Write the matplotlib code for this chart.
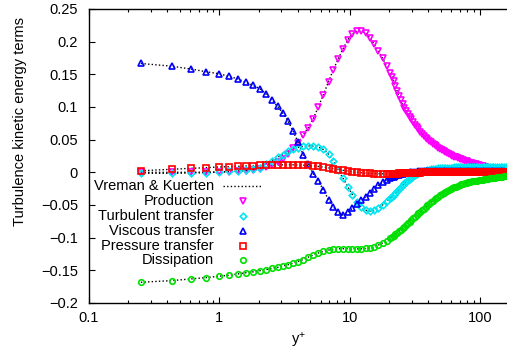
#!/usr/bin/env python3
"""
Turbulence kinetic energy budget near the wall, log scale in y+
"""

import matplotlib
matplotlib.use("Agg")
import matplotlib.pyplot as plt
from matplotlib.lines import Line2D
from matplotlib.ticker import FixedLocator, FixedFormatter, LogLocator, NullFormatter

plt.rcParams['font.family'] = ['Liberation Sans', 'DejaVu Sans']
plt.rcParams['mathtext.default'] = 'regular'

# wall distance of each sample (wall units)
yplus = [0.25, 0.43, 0.61, 0.79, 0.99, 1.18, 1.39, 1.59, 1.82, 2.05,
         2.28, 2.54, 2.80, 3.06, 3.35, 3.67, 4.00, 4.40, 4.80, 5.26,
         5.75, 6.30, 6.90, 7.50, 8.20, 8.90, 9.70, 10.5, 11.4, 12.3,
         13.3, 14.3, 15.4, 16.6, 17.9, 19.3,
         20.5, 21.2, 21.8, 22.5, 23.2, 23.9, 24.7, 25.5, 26.3, 27.1,
         28.0, 28.9, 29.8, 30.8, 31.8, 32.8, 33.8, 34.9, 36.0, 37.2,
         38.4, 39.6, 40.9, 42.2, 43.5, 44.9, 46.4, 47.9, 49.4, 51.0,
         52.6, 54.3, 56.0, 57.8, 59.7, 61.6, 63.5, 65.6, 67.7, 69.8,
         72.0, 74.3, 76.7, 79.2, 81.7, 84.3, 87.0, 89.8, 92.7, 95.7,
         98.7, 102, 105, 108, 112, 115, 119, 123, 127, 131,
         135, 139, 144, 148, 153, 158, 163, 168, 174]

production = [0.0, 0.0, 0.0001, 0.0003, 0.0006, 0.001, 0.0017, 0.0025, 0.0038, 0.0055,
              0.008, 0.011, 0.0155, 0.021, 0.028, 0.0365, 0.045, 0.057, 0.068, 0.082,
              0.100, 0.119, 0.139, 0.157, 0.174, 0.189, 0.203, 0.212, 0.216, 0.216,
              0.213, 0.206, 0.197, 0.186, 0.175, 0.162,
              0.152, 0.146, 0.140, 0.132, 0.124, 0.117, 0.111, 0.105, 0.099, 0.094,
              0.090, 0.085, 0.081, 0.077, 0.073, 0.069, 0.066, 0.062, 0.059, 0.056,
              0.053, 0.0505, 0.048, 0.046, 0.044, 0.042, 0.040, 0.038, 0.036, 0.0345,
              0.033, 0.0315, 0.030, 0.0285, 0.027, 0.0255, 0.024, 0.023, 0.022, 0.021,
              0.020, 0.019, 0.018, 0.017, 0.016, 0.015, 0.014, 0.013, 0.012, 0.011,
              0.0105, 0.0098, 0.009, 0.0084, 0.0078, 0.0073, 0.0068, 0.0064, 0.006, 0.0055,
              0.005, 0.0048, 0.0045, 0.0042, 0.004, 0.0037, 0.0035, 0.0032, 0.003]

turb_transfer = [-0.0015, -0.0015, -0.001, -0.0005, 0.0003, 0.0013, 0.0023, 0.0035, 0.0048, 0.007,
                 0.013, 0.018, 0.023, 0.027, 0.032, 0.0355, 0.038, 0.0398, 0.0405, 0.040,
                 0.039, 0.035, 0.028, 0.018, 0.003, -0.009, -0.022, -0.034, -0.045, -0.053,
                 -0.058, -0.0595, -0.058, -0.054, -0.050, -0.044,
                 -0.040, -0.037, -0.034, -0.0315, -0.029, -0.026, -0.023, -0.020, -0.017, -0.0145,
                 -0.012, -0.010, -0.008, -0.006, -0.004, -0.0025, -0.001, 0.0, 0.001, 0.002,
                 0.0028, 0.0034, 0.004, 0.0045, 0.005, 0.0054, 0.0058, 0.0061, 0.0063, 0.0065,
                 0.0067, 0.0069, 0.007, 0.0071, 0.0072, 0.0073, 0.0074, 0.0074, 0.0075, 0.0075,
                 0.0076, 0.0076, 0.0077, 0.0077, 0.0078, 0.0078, 0.0078, 0.0079, 0.0079, 0.0079,
                 0.008, 0.008, 0.008, 0.0081, 0.0081, 0.0081, 0.0082, 0.0082, 0.0082, 0.0083,
                 0.0083, 0.0083, 0.0084, 0.0084, 0.0084, 0.0085, 0.0085, 0.0085, 0.0085]

visc_transfer = [0.1666, 0.1625, 0.158, 0.154, 0.151, 0.147, 0.143, 0.138, 0.133, 0.128,
                 0.120, 0.110, 0.101, 0.091, 0.079, 0.064, 0.047, 0.027, 0.012, -0.002,
                 -0.013, -0.027, -0.042, -0.053, -0.061, -0.0655, -0.061, -0.055, -0.048, -0.043,
                 -0.0375, -0.032, -0.026, -0.020, -0.015, -0.011,
                 -0.009, -0.0079, -0.0068, -0.0058, -0.0048, -0.0038, -0.0028, -0.002, -0.0013, -0.0008,
                 -0.0003, 0.0001, 0.0005, 0.0008, 0.001, 0.0012, 0.0013, 0.0015, 0.0016, 0.0017,
                 0.0018, 0.0019, 0.002, 0.002, 0.002, 0.002, 0.002, 0.002, 0.002, 0.002,
                 0.002, 0.002, 0.002, 0.002, 0.002, 0.002, 0.002, 0.002, 0.002, 0.002,
                 0.002, 0.002, 0.002, 0.002, 0.0019, 0.0019, 0.0018, 0.0018, 0.0018, 0.0017,
                 0.0017, 0.0017, 0.0016, 0.0016, 0.0016, 0.0015, 0.0015, 0.0015, 0.0014, 0.0014,
                 0.0014, 0.0013, 0.0013, 0.0013, 0.0013, 0.0012, 0.0012, 0.0012, 0.0012]

press_transfer = [0.0025, 0.0046, 0.0062, 0.0071, 0.0082, 0.0086, 0.0092, 0.0097, 0.0102, 0.0107,
                  0.011, 0.0112, 0.0114, 0.0115, 0.0115, 0.0115, 0.0113, 0.011, 0.0105, 0.0098,
                  0.009, 0.008, 0.0068, 0.0056, 0.0043, 0.003, 0.0018, 0.0008, 0.0, -0.0007,
                  -0.0012, -0.0016, -0.0019, -0.0021, -0.0022, -0.0022,
                  -0.0021, -0.0021, -0.002, -0.0019, -0.0018, -0.0017, -0.0016, -0.0015, -0.0013, -0.0012,
                  -0.001, -0.0009, -0.0008, -0.0007, -0.0006, -0.0005, -0.0004, -0.0003, -0.0002, -0.0001,
                  0.0, 0.0001, 0.0002, 0.0002, 0.0003, 0.0003, 0.0004, 0.0004, 0.0005, 0.0005,
                  0.0006, 0.0006, 0.0006, 0.0007, 0.0007, 0.0007, 0.0007, 0.0008, 0.0008, 0.0008,
                  0.0008, 0.0008, 0.0008, 0.0009, 0.0009, 0.0009, 0.0009, 0.0009, 0.0009, 0.0009,
                  0.0009, 0.001, 0.001, 0.001, 0.001, 0.001, 0.001, 0.001, 0.001, 0.001,
                  0.001, 0.001, 0.001, 0.001, 0.001, 0.001, 0.001, 0.001, 0.001]

dissipation = [-0.1683, -0.1657, -0.1631, -0.1611, -0.1591, -0.1575, -0.1554, -0.1538, -0.1523, -0.1505,
               -0.149, -0.147, -0.1455, -0.1435, -0.1415, -0.139, -0.1365, -0.1335, -0.130, -0.1265,
               -0.1235, -0.121, -0.119, -0.1175, -0.117, -0.1168, -0.1168, -0.117, -0.1172, -0.117,
               -0.1165, -0.1155, -0.114, -0.1115, -0.108, -0.1045,
               -0.101, -0.099, -0.097, -0.095, -0.0925, -0.090, -0.088, -0.0855, -0.083, -0.0805,
               -0.078, -0.0755, -0.073, -0.0705, -0.068, -0.0655, -0.063, -0.0605, -0.058, -0.0555,
               -0.053, -0.0505, -0.048, -0.0458, -0.0435, -0.0412, -0.039, -0.037, -0.035, -0.033,
               -0.031, -0.0297, -0.0285, -0.0272, -0.026, -0.0245, -0.023, -0.0218, -0.0205, -0.0195,
               -0.0185, -0.0176, -0.0168, -0.016, -0.0153, -0.0146, -0.014, -0.0135, -0.013, -0.0125,
               -0.012, -0.0115, -0.011, -0.0106, -0.0102, -0.0097, -0.0093, -0.0089, -0.0085, -0.0081,
               -0.0077, -0.0073, -0.007, -0.0066, -0.0063, -0.006, -0.0057, -0.0054, -0.0052]

labels = ['Production', 'Turbulent transfer', 'Viscous transfer',
          'Pressure transfer', 'Dissipation']
series = [production, turb_transfer, visc_transfer, press_transfer, dissipation]
colors = ['#ff00ff', '#00e5f0', '#0000ff', '#ff0000', '#00e000']
markers = ['v', 'D', '^', 's', 'o']
msizes = [4.5, 3.3, 4.5, 3.8, 4.0]

ytick_vals = [-0.2, -0.15, -0.1, -0.05, 0.0, 0.05, 0.1, 0.15, 0.2, 0.25]
ytick_labels = ['\u22120.2', '\u22120.15', '\u22120.1', '\u22120.05', '0',
                '0.05', '0.1', '0.15', '0.2', '0.25']
xtick_vals = [0.1, 1, 10, 100]
xtick_labels = ['0.1', '1', '10', '100']

W, H = 507, 353
FS = 10.5


def fx(px):
    return px / W


def fy(py):
    return 1 - py / H


fig = plt.figure(figsize=(W / 100, H / 100), dpi=100)
ax = fig.add_axes([fx(89), fy(303), fx(418), 294 / H])

# reference curves (dotted) under the markers
for s in series:
    ax.plot(yplus, s, color='black', lw=1.0, dashes=(1, 1.6), zorder=2)

for s, c, m, ms in zip(series, colors, markers, msizes):
    ax.plot(yplus, s, ls='none', marker=m, ms=ms, mfc='none', mec=c,
            mew=1.2, zorder=3)

ax.set_xscale('log')
ax.set_xlim(0.1, 161.5)
ax.set_ylim(-0.2, 0.25)

ax.xaxis.set_major_locator(FixedLocator(xtick_vals))
ax.xaxis.set_major_formatter(FixedFormatter(xtick_labels))
ax.xaxis.set_minor_locator(LogLocator(base=10, subs=range(2, 10)))
ax.xaxis.set_minor_formatter(NullFormatter())
ax.yaxis.set_major_locator(FixedLocator(ytick_vals))
ax.yaxis.set_major_formatter(FixedFormatter(ytick_labels))

ax.spines['right'].set_visible(False)
for sp in ax.spines.values():
    sp.set_linewidth(1.0)
ax.tick_params(axis='x', which='both', direction='in', top=True,
               labelsize=FS, pad=5.5)
ax.tick_params(axis='x', which='major', length=4, width=0.8)
ax.tick_params(axis='x', which='minor', length=2.2, width=0.8)
ax.tick_params(axis='y', which='major', direction='in', length=4, width=0.8,
               labelsize=FS, pad=8)

fig.text(fx(20), fy(122), 'Turbulence kinetic energy terms', rotation=90,
         ha='center', va='center', fontsize=FS)
fig.text(fx(298), fy(341), 'y$^{+}$', ha='center', va='center', fontsize=FS)

# key: text right-aligned, sample to the right
key_rows = [186, 201, 216, 231, 246, 260]
fig.text(fx(214), fy(key_rows[0]), 'Vreman & Kuerten', ha='right',
         va='center', fontsize=FS)
fig.add_artist(Line2D([fx(223), fx(262)], [fy(key_rows[0])] * 2,
                      color='black', lw=1.0, dashes=(1, 1.6),
                      transform=fig.transFigure))
for row, lab, c, m, ms in zip(key_rows[1:], labels, colors, markers, msizes):
    fig.text(fx(214), fy(row), lab, ha='right', va='center', fontsize=FS)
    fig.add_artist(Line2D([fx(243)], [fy(row)], ls='none', marker=m, ms=ms,
                          mfc='none', mec=c, mew=1.2,
                          transform=fig.transFigure))

fig.savefig('out.png', dpi=100)
